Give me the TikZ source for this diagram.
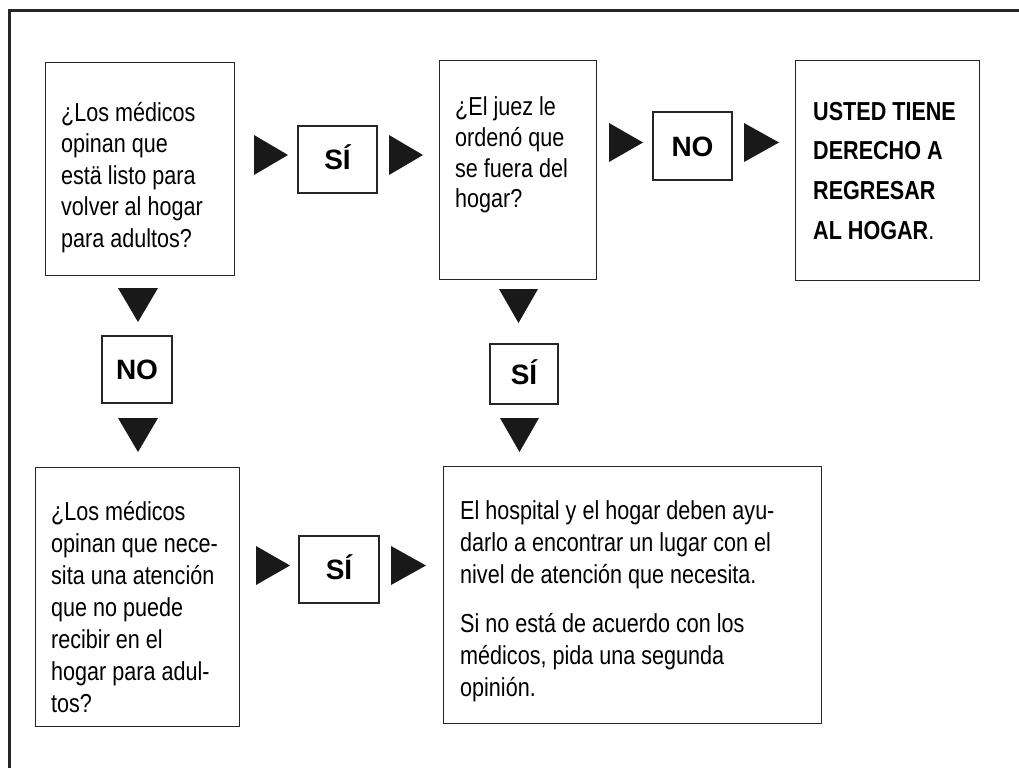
\documentclass[tikz,border=0pt]{standalone}
\usepackage{fontspec}
\setmainfont{Liberation Sans}
\newfontfamily\narrowfont[FakeStretch=0.83]{Liberation Sans}
\begin{document}
\begin{tikzpicture}[x=1pt,y=-1pt,
  box/.style={draw=black!85, line width=1.2pt, anchor=north west, inner sep=0pt},
  lbl/.style={draw=black!85, line width=1.2pt, inner sep=0pt,
    font=\bfseries\fontsize{28}{28}\selectfont, text height=20pt, text depth=0pt},
  txt/.style={anchor=base west, inner sep=0pt, font=\narrowfont\fontsize{26}{31.7}\selectfont},
  tri/.style={fill=black!90}]
\useasboundingbox (0,0) rectangle (1019,768);
% frame
\draw[line width=3pt, black!85] (9,768) -- (9,11) -- (1019,11);

% main boxes
\node[box, minimum width=189pt, minimum height=213pt] (b1) at (45,62) {};
\node[box, minimum width=157pt, minimum height=219pt] (b2) at (439,60) {};
\node[box, minimum width=184pt, minimum height=220pt] (b3) at (795,60) {};
\node[box, minimum width=204pt, minimum height=259pt] (b4) at (35,467) {};
\node[box, minimum width=378pt, minimum height=257pt] (b5) at (443,466) {};

% texts
\node[txt] (t1) at (61,121.5) {\parbox[t]{180pt}{\fontsize{26}{31.4}\selectfont\raggedright
  ¿Los médicos\\ opinan que\\ estä listo para\\ volver al hogar\\ para adultos?}};
\node[txt] (t2) at (455,115.5) {\parbox[t]{150pt}{\fontsize{26}{30.8}\selectfont\raggedright
  ¿El juez le\\ ordenó que\\ se fuera del\\ hogar?}};
\node[txt] (t3) at (813,120) {\parbox[t]{170pt}{\fontsize{26}{39.7}\selectfont\raggedright
  \textbf{USTED TIENE}\\ \textbf{DERECHO A}\\ \textbf{REGRESAR}\\ \textbf{AL HOGAR}.}};
\node[txt] (t4) at (51,520) {\parbox[t]{200pt}{\fontsize{26}{32}\selectfont\raggedright
  ¿Los médicos\\ opinan que nece-\\ sita una atención\\ que no puede\\ recibir en el\\ hogar para adul-\\ tos?}};
\node[txt] (t5) at (460,519.3) {\parbox[t]{360pt}{\fontsize{26}{32}\selectfont\raggedright
  El hospital y el hogar deben ayu-\\ darlo a encontrar un lugar con el\\ nivel de atención que necesita.\\[17pt]
  Si no está de acuerdo con los\\ médicos, pida una segunda\\ opinión.}};

% labels
\node[lbl, minimum width=79pt, minimum height=67pt] (s1) at (337.5,159.5) {SÍ};
\node[lbl, minimum width=79pt, minimum height=68pt] (n1) at (692.5,146) {NO};
\node[lbl, minimum width=70pt, minimum height=67pt] (n2) at (137,369.5) {NO};
\node[lbl, minimum width=68pt, minimum height=60pt] (s2) at (524,374) {SÍ};
\node[lbl, minimum width=80pt, minimum height=67pt] (s3) at (339,569.5) {SÍ};

% right-pointing triangles
\fill[tri] (254,135) -- (288,155) -- (254,175) -- cycle;
\fill[tri] (389,135) -- (423,155) -- (389,175) -- cycle;
\fill[tri] (609,123) -- (643,142.5) -- (609,162) -- cycle;
\fill[tri] (744,123) -- (779,142.5) -- (744,162) -- cycle;
\fill[tri] (256,546) -- (290,565.5) -- (256,585) -- cycle;
\fill[tri] (391,546) -- (426,565.5) -- (391,585) -- cycle;
% down-pointing triangles
\fill[tri] (118,288) -- (158,288) -- (138,322) -- cycle;
\fill[tri] (118,418) -- (158,418) -- (138,452) -- cycle;
\fill[tri] (499,289) -- (538,289) -- (518.5,323) -- cycle;
\fill[tri] (500,418) -- (539,418) -- (519.5,452) -- cycle;
\end{tikzpicture}
\end{document}
